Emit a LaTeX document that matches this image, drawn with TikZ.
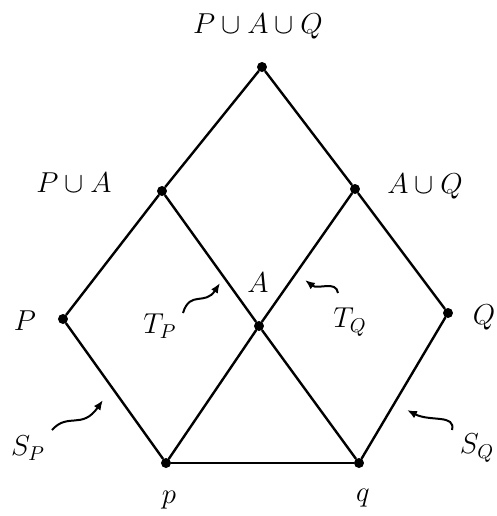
\documentclass[tikz,border=0pt]{standalone}
\usepackage{amsmath,amssymb}
\usepackage{tikz}
\usetikzlibrary{arrows.meta}

\begin{document}
\begin{tikzpicture}[
  x=0.5pt, y=-0.5pt,
  >={Latex[length=5pt,width=4pt]},
  font=\Large,
  vtx/.style={circle, fill=black, inner sep=0pt, minimum size=5pt},
  lab/.style={inner sep=1pt},
  edge/.style={line width=1.2pt, line cap=round},
  wig/.style={->, line width=1pt}
]
\useasboundingbox (0,0) rectangle (497,516);

% points of the lattice
\node[vtx] (paq) at (262,67) {};
\node[vtx] (pa) at (162,191) {};
\node[vtx] (aq) at (355,189) {};
\node[vtx] (P) at (63,319) {};
\node[vtx] (A) at (259,326) {};
\node[vtx] (Q) at (448,313) {};
\node[vtx] (p) at (166,463) {};
\node[vtx] (q) at (359,463) {};

% labels
\node[lab] (lpaq) at (258,26) {$P\cup A\cup Q$};
\node[lab] (lpa) at (74,183) {$P\cup A$};
\node[lab] (laq) at (425,186) {$A\cup Q$};
\node[lab] (lP) at (25,321) {$P$};
\node[lab] (lA) at (258,283) {$A$};
\node[lab] (lQ) at (484,317) {$Q$};
\node[lab] (lp) at (169,500) {$p$};
\node[lab] (lq) at (363,498) {$q$};
\node[lab] (TP) at (160,326) {$T_P$};
\node[lab] (TQ) at (350,322) {$T_Q$};
\node[lab] (SP) at (28,448) {$S_P$};
\node[lab] (SQ) at (477,448) {$S_Q$};

% edges
\draw[edge] (paq) -- (pa);
\draw[edge] (paq) -- (aq);
\draw[edge] (pa) -- (P);
\draw[edge] (pa) -- (A);
\draw[edge] (aq) -- (A);
\draw[edge] (aq) -- (Q);
\draw[edge] (P) -- (p);
\draw[edge] (A) -- (p);
\draw[edge] (A) -- (q);
\draw[edge] (Q) -- (q);
\draw[edge] (p) -- (q);

% wiggly pointers
\coordinate (tp0) at (183,313);
\coordinate (tp) at (220,283);
\coordinate (tq0) at (338,293);
\coordinate (tq) at (305,280);
\coordinate (sp0) at (52,430);
\coordinate (sp) at (103,400);
\coordinate (sq0) at (452,430);
\coordinate (sq) at (407,410);
\draw[wig] (tp0) .. controls (190,290) and (205,306) .. (tp);
\draw[wig] (tq0) .. controls (336,280) and (318,290) .. (tq);
\draw[wig] (sp0) .. controls (68,412) and (82,430) .. (sp);
\draw[wig] (sq0) .. controls (456,414) and (430,422) .. (sq);

\end{tikzpicture}
\end{document}
